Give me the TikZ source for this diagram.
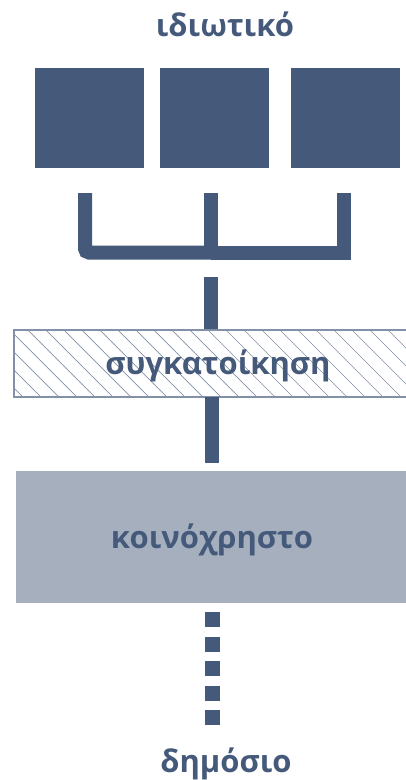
\documentclass[tikz,border=0pt]{standalone}
\usepackage{fontspec}
\setmainfont{Open Sans}
\definecolor{navy}{HTML}{455A7A}
\definecolor{greybox}{HTML}{A5AFBE}
\definecolor{hatchc}{HTML}{8391A8}
\begin{document}
\begin{tikzpicture}[x=1pt,y=-1pt,
  lbl/.style={font=\bfseries\fontsize{31}{31}\selectfont, text=navy, inner sep=0pt, anchor=base},
  sq/.style={fill=navy, minimum width=109pt, minimum height=100pt, inner sep=0pt},
  bar/.style={draw=navy, line width=14pt},
  dots/.style={draw=navy, line width=15pt, dash pattern=on 15pt off 9.5pt}
]
\useasboundingbox (0,0) rectangle (406,780);
\fill[white] (0,0) rectangle (406,780);

\node[lbl] (t) at (225,36) {ιδιωτικό};

\node[sq] (s1) at (89.5,118) {};
\node[sq] (s2) at (214.5,118) {};
\node[sq] (s3) at (345.5,118) {};

% hatched box
\begin{scope}
  \clip (14,330) rectangle (412,397);
  \foreach \i in {-80,-62,...,420} {
    \draw[hatchc, line width=0.7pt] (\i,330) -- (\i+67,397);
  }
\end{scope}
\node[draw=hatchc, line width=1.3pt, minimum width=398pt, minimum height=67pt, inner sep=0pt] (h) at (213,363.5) {};
\node[lbl] (hl) at (218,374) {συγκατοίκηση};

% grey box
\node[fill=greybox, minimum width=394pt, minimum height=132pt, inner sep=0pt] (g) at (213,537) {};
\node[lbl] (gl) at (212,548) {κοινόχρηστο};

\node[lbl] (d) at (226,772) {δημόσιο};

% bracket
\coordinate (b1) at (85,193);
\coordinate (b2) at (211,193);
\coordinate (b3) at (344,193);
\coordinate (bm) at (211,252.5);
\draw[bar, rounded corners=4pt] (b1) -- (b1 |- bm) -- (bm);
\draw[bar] (bm) -- (b3 |- bm) -- (b3);
\draw[bar] (b2) -- (bm);

% stems
\coordinate (st) at (211,277);
\draw[bar] (st) -- (st |- h.north);
\draw[bar, shorten >=8pt] (212,397) coordinate (st2) -- (st2 |- g.north);
\draw[dots, shorten <=9pt] (212,603) coordinate (st3) -- (212,725);
\end{tikzpicture}
\end{document}
